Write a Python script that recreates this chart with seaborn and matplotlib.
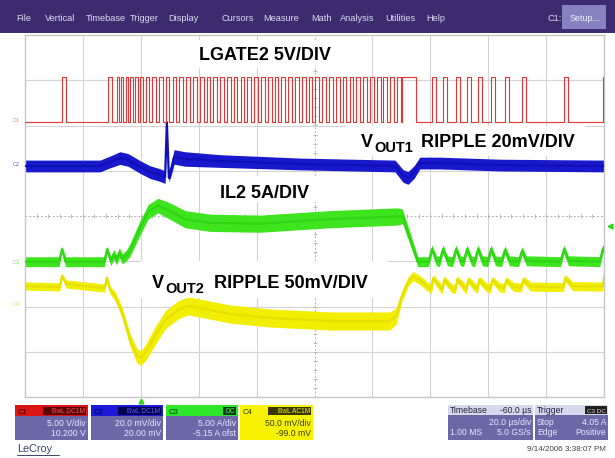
import numpy as np
import pandas as pd
import matplotlib
matplotlib.use("Agg")
import matplotlib.pyplot as plt
import seaborn as sns
from matplotlib.patches import Rectangle

sns.set_theme(style="white")
plt.rcParams['font.family'] = ['Liberation Sans', 'DejaVu Sans']

W, H = 615, 458

# ---- scope settings -------------------------------------------------------
C1_SCALE, C1_OFFSET = 5.0, 10.2      # V/div, V
C2_SCALE, C2_OFFSET = 20.0, 20.0     # mV/div, mV
C3_SCALE, C3_OFFSET = 5.0, -5.15     # A/div, A
C4_SCALE, C4_OFFSET = 50.0, -99.0    # mV/div, mV
TIME_PER_DIV = 20.0                  # us/div
TRIGGER_DELAY = -60.0                # us
TRIGGER_LEVEL = 4.05                 # A

# ---- C1: LGATE2 gate drive (rising edges and high time, us) ---------------
LGATE_LOW, LGATE_HIGH = 0.2, 5.2
lgate_rise = [-27.2, -11.3,
              -8.2, -6.7, -5.1, -3.6, -2.0, -0.3, 1.8, 4.0, 6.3,
              8.6, 11.0, 13.3, 15.7, 18.0, 20.4, 22.7, 25.1, 27.4, 29.8,
              32.1, 34.5, 36.8, 39.2, 41.5, 43.9, 46.2, 48.6, 50.9, 53.3,
              55.6, 58.0, 60.3, 62.7, 65.0, 67.4, 69.7, 72.1, 74.4, 76.8,
              79.1, 81.5, 83.8, 86.2, 88.5,
              90.2,
              100.6, 104.4, 108.9, 112.7, 116.5, 121.0, 125.8, 131.7, 146.2, 159.7]
lgate_high = ([1.3, 1.3]
              + [0.7, 0.7, 0.7, 0.8, 0.9, 1.0, 1.1, 1.2, 1.3]
              + [1.3] * 35
              + [4.9]
              + [1.3] * 10)

# ---- C2: VOUT1 ripple (us, mV, half band mV) -------------------------------
vout1_t = [-40, -14.1, -10.6, -7.2, -4.4, -0.3, 3.2, 6.6, 8.4, 9.0, 9.7, 10.4,
           11.5, 15.3, 27.4, 55.0, 87.8, 90.6, 92.3, 94.4, 96.4, 103.3, 124.1, 160]
vout1_mv = [2.1, 2.1, 3.9, 5.6, 4.8, 1.7, -0.6, -1.9, -2.8, 21.5, -3.2, 0.3,
            6.1, 5.2, 4.3, 3.0, 2.1, -2.3, -3.2, -0.6, 3.4, 3.4, 2.5, 2.1]
vout1_band = [2.6, 2.6, 2.6, 2.8, 2.8, 2.8, 2.8, 2.8, 2.8, 0.6, 1.6, 2.8,
              3.2, 3.2, 2.8, 2.6, 2.6, 2.8, 2.8, 2.8, 2.6, 2.6, 2.6, 2.6]

# ---- C3: IL2 inductor current (us, A, half band A) --------------------------
il2_t = [-40, -28.2, -27.2, -26.0, -12.6, -11.6, -10.4, -9.3, -8.4, -7.4, -6.4,
         -5.0, -3.7, -0.3, 2.5, 5.9, 9.4, 15.3, 23.9, 41.2, 65.4, 88.8, 90.4, 95.7]
il2_a = [0.1, 0.1, 1.5, 0.1, 0.1, 1.5, 0.2, 0.9, 0.3, 1.1, 0.4,
         0.8, 1.4, 3.8, 5.6, 6.3, 5.8, 4.8, 4.4, 4.3, 4.8, 5.1, 5.1, 0.1]
il2_band = [0.55, 0.55, 0.3, 0.55, 0.55, 0.3, 0.55, 0.55, 0.55, 0.55, 0.55,
            0.6, 0.7, 0.8, 0.8, 0.8, 0.9, 0.95, 0.95, 0.95, 0.95, 0.95, 0.8, 0.55]
# current bumps after the load release, one per gate pulse
il2_bump_t = [100.6, 104.4, 108.9, 112.7, 116.5, 121.0, 125.8, 131.7, 146.2, 159.7]
il2_bump_a = [1.5, 1.5, 1.5, 1.5, 1.5, 1.5, 1.4, 1.3, 1.5, 1.6]
IL2_BASE = 0.1

# ---- C4: VOUT2 ripple (us, mV, half band mV) --------------------------------
vout2_t = [-40, -28.0, -27.2, -25.8, -12.5, -11.7, -10.6, -8.9, -6.5, -3.7, -1.3,
           0.0, 1.8, 4.9, 8.4, 12.8, 16.3, 20.4, 30.8, 44.6, 65.4, 86.1, 88.2,
           90.2, 92.3, 94.0, 96.4, 99.2]
vout2_mv = [21.7, 20.6, 32.7, 23.9, 19.4, 30.5, 17.2, 10.6, -7.2, -38.1, -55.7,
            -57.9, -51.2, -33.5, -15.9, -4.9, -0.4, -2.7, -9.3, -13.7, -17.0, -17.0, -11.6,
            10.6, 26.1, 32.7, 28.3, 20.6]
vout2_band = [4.5, 4.5, 3, 4.5, 4.5, 3, 4.5, 5, 6, 7, 8,
              8, 9, 10, 10, 10, 10, 10, 10, 10, 10, 10, 9,
              6, 5, 5, 5, 5]
vout2_bump_t = [100.6, 104.4, 108.9, 112.7, 116.5, 121.0, 125.8, 131.7, 146.2, 159.7]
vout2_bump_peak = [30.5, 29.0, 29.0, 28.5, 28.5, 28.5, 28.0, 28.5, 30.5, 32.5]
vout2_bump_base = [18.5, 18.0, 18.5, 18.5, 19.0, 19.0, 19.5, 20.0, 20.5, 21.0]


def to_div(v, scale, offset):
    return 4.0 + (np.asarray(v, dtype=float) + offset) / scale


# gate waveform vertices
t_left = -(5 + TRIGGER_DELAY / TIME_PER_DIV) * TIME_PER_DIV
t_right = t_left + 10 * TIME_PER_DIV
g_t, g_v = [t_left], [LGATE_LOW]
for r, w in zip(lgate_rise, lgate_high):
    g_t += [r, r, r + w, r + w]
    g_v += [LGATE_LOW, LGATE_HIGH, LGATE_HIGH, LGATE_LOW]
g_t.append(t_right)
g_v.append(LGATE_LOW)

# IL2 with its post-release bumps
i_t, i_a, i_b = list(il2_t), list(il2_a), list(il2_band)
for tb, pk in zip(il2_bump_t, il2_bump_a):
    i_t += [tb - 1.2, tb, tb + 1.5]
    i_a += [IL2_BASE, pk, IL2_BASE + 0.1]
    i_b += [0.55, 0.45, 0.55]
i_t.append(t_right + 2); i_a.append(IL2_BASE); i_b.append(0.55)

# VOUT2 with its post-release bumps
v_t, v_m, v_b = list(vout2_t), list(vout2_mv), list(vout2_band)
for tb, pk, bs in zip(vout2_bump_t, vout2_bump_peak, vout2_bump_base):
    v_t += [tb - 0.2, tb + 0.4, tb + 3.0]
    v_m += [bs, pk, bs + 1.0]
    v_b += [5, 4, 5]
v_t.append(t_right + 2); v_m.append(21.0); v_b.append(5)

fig = plt.figure(figsize=(W / 100, H / 100), dpi=100)
fig.patch.set_facecolor("white")
ax = fig.add_axes([25 / W, 1 - 397 / H, 579 / W, 362 / H])
ax.set_facecolor("white")
ax.set_xlim(t_left, t_right)
ax.set_ylim(0, 8)
ax.set_xticks([]); ax.set_yticks([])
for s in ax.spines.values():
    s.set_color("#c6c6c6"); s.set_linewidth(1.0)

# graticule
GRID = "#d3d3d3"
for k in range(1, 10):
    if k != 5:
        ax.axvline(t_left + k * TIME_PER_DIV, color=GRID, lw=0.8, zorder=0)
for k in range(1, 8):
    if k != 4:
        ax.axhline(k, color=GRID, lw=0.8, zorder=0)
tc = t_left + 5 * TIME_PER_DIV
ax.axvline(tc, color="#b0b0b0", lw=0.7, ls=(0, (2, 2)), zorder=0)
ax.axhline(4, color="#b0b0b0", lw=0.7, ls=(0, (2, 2)), zorder=0)
minor_y = np.arange(0.2, 8, 0.2)
ax.plot([tc] * len(minor_y), minor_y, ls="none", marker="_", ms=3, mew=0.6, color="#b0b0b0", zorder=0)
minor_x = np.arange(t_left + 4, t_right, 4)
ax.plot(minor_x, [4] * len(minor_x), ls="none", marker="|", ms=3, mew=0.6, color="#b0b0b0", zorder=0)


def trace(t, v, band, scale, offset, color, edge, lw):
    y = to_div(v, scale, offset)
    b = np.asarray(band, dtype=float) / scale
    ax.fill_between(t, y - b, y + b, color=color, lw=0, zorder=2)
    df = pd.DataFrame({"t": t, "y": y})
    sns.lineplot(data=df, x="t", y="y", sort=False, estimator=None,
                 color=edge, linewidth=lw, ax=ax, zorder=3)


trace(v_t, v_m, v_b, C4_SCALE, C4_OFFSET, "#f2ee00", "#e6df00", 1.6)
trace(i_t, i_a, i_b, C3_SCALE, C3_OFFSET, "#3ee41e", "#2fd614", 1.6)
trace(vout1_t, vout1_mv, vout1_band, C2_SCALE, C2_OFFSET, "#1818cc", "#1010bb", 1.6)

gate_df = pd.DataFrame({"t": g_t, "y": to_div(g_v, C1_SCALE, C1_OFFSET)})
sns.lineplot(data=gate_df, x="t", y="y", sort=False, estimator=None,
             color="#e23636", linewidth=0.8, ax=ax, zorder=4)
ax.set_xlabel(""); ax.set_ylabel("")

# ---- overlay in pixel coordinates -----------------------------------------
ov = fig.add_axes([0, 0, 1, 1], zorder=5)
ov.set_xlim(0, W); ov.set_ylim(H, 0)
ov.axis("off")
ov.patch.set_alpha(0)

# menu bar
ov.add_patch(Rectangle((0, 0), W, 33, color="#3d2b70", lw=0))
menu = [("File", 16), ("Vertical", 45), ("Timebase", 86), ("Trigger", 130),
        ("Display", 168), ("Cursors", 221), ("Measure", 263), ("Math", 311),
        ("Analysis", 340), ("Utilities", 385), ("Help", 426), ("C1:", 547)]
for name, x in menu:
    ov.text(x, 21, name, color="#dcdcf0", fontsize=6.6, va="baseline", ha="left")
ov.add_patch(Rectangle((562, 5), 44, 24, color="#8682c0", lw=0))
ov.text(570, 21, "Setup...", color="#f0f0ff", fontsize=6.4, va="baseline")

# waveform labels on white boxes
def label(box, parts):
    x0, y0, x1, y1 = box
    ov.add_patch(Rectangle((x0, y0), x1 - x0, y1 - y0, color="white", lw=0))
    for txt, x, y, size in parts:
        ov.text(x, y, txt, fontsize=size, fontweight="bold", color="black",
                va="baseline", ha="left")

label((190, 40, 345, 68), [("LGATE2 5V/DIV", 199, 60, 13)])
label((345, 126, 585, 156), [("V", 361, 147, 13), ("OUT1", 374, 152, 10.5),
                             ("RIPPLE 20mV/DIV", 421, 147, 13)])
label((212, 176, 330, 202), [("IL2 5A/DIV", 220, 198, 13)])
label((141, 261, 388, 298), [("V", 152, 288, 13), ("OUT2", 165, 293, 10.5),
                             ("RIPPLE 50mV/DIV", 214, 288, 13)])

# channel ground markers and trigger markers
for txt, y, col in [("C1", 121, "#e23636"), ("C2", 165, "#1818cc"),
                    ("C3", 262, "#2fd614"), ("C4", 304, "#d8d000")]:
    ov.text(13, y, txt, color=col, fontsize=4, va="center", ha="left", alpha=0.7)
trig_y = 397 - to_div(TRIGGER_LEVEL, C3_SCALE, C3_OFFSET) * (362 / 8)
ov.plot([610], [trig_y], marker="<", ms=3.5, color="#2fd614", ls="none")
trig_x = 25 + (0 - t_left) / TIME_PER_DIV * 57.9
ov.plot([trig_x], [400.5], marker="^", ms=3.5, color="#2fd614", ls="none")

# channel descriptor boxes
BODY = "#6c68a8"
BODY_TXT = "#e8e8ff"
FS = 6.2


def chan_box(x0, x1, head, head_txt_col, name, tag, tag_bg, tag_fg, line1, line2,
             body=BODY, body_txt=BODY_TXT):
    ov.add_patch(Rectangle((x0, 405), x1 - x0, 35, color=body, lw=0))
    ov.add_patch(Rectangle((x0, 405), x1 - x0, 11, color=head, lw=0))
    ov.text(x0 + 3, 413.5, name, fontsize=5.5, color=head_txt_col, va="baseline")
    tw = 5.0 * len(tag) + 3
    ov.add_patch(Rectangle((x1 - 2 - tw, 406.5), tw, 8.5, color=tag_bg, lw=0))
    ov.text(x1 - 3, 413.2, tag, fontsize=4.8, color=tag_fg, va="baseline", ha="right")
    ov.text(x1 - 2, 426, line1, fontsize=FS, color=body_txt, va="baseline", ha="right")
    ov.text(x1 - 2, 436, line2, fontsize=FS, color=body_txt, va="baseline", ha="right")


chan_box(15, 88, "#dd1414", "#300000", "C1", "BwL DC1M", "#5a0606", "#ff5050",
         f"{C1_SCALE:.2f} V/div", f"{C1_OFFSET:.3f} V")
chan_box(91, 163, "#1a1ad8", "#000030", "C2", "BwL DC1M", "#000050", "#6060ff",
         f"{C2_SCALE:.1f} mV/div", f"{C2_OFFSET:.2f} mV")
chan_box(166, 238, "#2ee62a", "#003000", "C3", "DC", "#0c3a0c", "#50ff50",
         f"{C3_SCALE:.2f} A/div", f"{C3_OFFSET:.2f} A ofst")
chan_box(240, 313, "#f6f200", "#303000", "C4", "BwL AC1M", "#3a3600", "#f6f200",
         f"{C4_SCALE:.1f} mV/div", f"{C4_OFFSET:.1f} mV",
         body="#f6f200", body_txt="#3a3a00")

# timebase and trigger boxes
for x0, x1 in [(448, 533), (535, 608)]:
    ov.add_patch(Rectangle((x0, 405), x1 - x0, 35, color=BODY, lw=0))
    ov.add_patch(Rectangle((x0, 405), x1 - x0, 10, color="#d8d8ec", lw=0))
ov.text(450, 413, "Timebase", fontsize=FS, color="#202040", va="baseline")
ov.text(531, 413, f"{TRIGGER_DELAY:.1f} µs", fontsize=FS, color="#202040",
        va="baseline", ha="right")
ov.text(531, 425, f"{TIME_PER_DIV:.1f} µs/div", fontsize=FS, color=BODY_TXT,
        va="baseline", ha="right")
ov.text(450, 435, "1.00 MS", fontsize=FS, color=BODY_TXT, va="baseline")
ov.text(531, 435, "5.0 GS/s", fontsize=FS, color=BODY_TXT, va="baseline", ha="right")
ov.text(537, 413, "Trigger", fontsize=FS, color="#202040", va="baseline")
ov.add_patch(Rectangle((585, 406), 22, 8, color="#202020", lw=0))
ov.text(606, 412.8, "C3 DC", fontsize=4.5, color="#e0e0e0", va="baseline", ha="right")
ov.text(537, 425, "Stop", fontsize=FS, color=BODY_TXT, va="baseline")
ov.text(606, 425, f"{TRIGGER_LEVEL:.2f} A", fontsize=FS, color=BODY_TXT,
        va="baseline", ha="right")
ov.text(537, 435, "Edge", fontsize=FS, color=BODY_TXT, va="baseline")
ov.text(606, 435, "Positive", fontsize=FS, color=BODY_TXT, va="baseline", ha="right")

# footer
ov.text(17, 452, "LeCroy", fontsize=7.8, color="#3a4468", va="baseline")
ov.plot([17, 59], [454.5, 454.5], color="#3a4468", lw=0.7)
ov.text(606, 451, "9/14/2006 3:38:07 PM", fontsize=5.8, color="#404040",
        va="baseline", ha="right")

fig.savefig("out.png", dpi=100, facecolor="white")
